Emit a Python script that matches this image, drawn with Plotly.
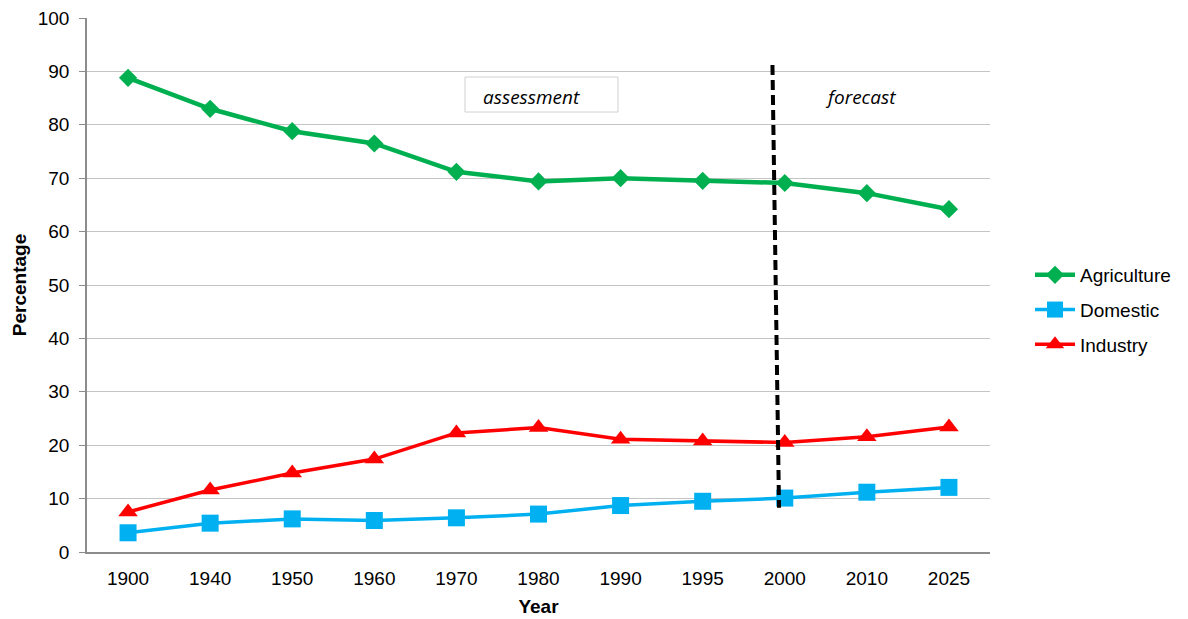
import plotly.graph_objects as go

years = ["1900", "1940", "1950", "1960", "1970", "1980", "1990", "1995", "2000", "2010", "2025"]
agriculture = [88.8, 83.0, 78.8, 76.5, 71.2, 69.4, 70.0, 69.5, 69.1, 67.2, 64.2]
domestic = [3.6, 5.4, 6.2, 5.9, 6.4, 7.1, 8.7, 9.5, 10.1, 11.2, 12.1]
industry = [7.5, 11.6, 14.8, 17.4, 22.3, 23.3, 21.1, 20.8, 20.5, 21.6, 23.4]

W, H = 1188, 619
ML, MR, MT, MB = 87, 198, 18, 67
PW, PH = W - ML - MR, H - MT - MB


def px(xp):
    return (xp - ML) / PW


def py(yp):
    return (H - MB - yp) / PH


FONT = "Arial, Liberation Sans, sans-serif"

fig = go.Figure()
fig.add_trace(go.Scatter(
    x=years, y=agriculture, name="Agriculture", mode="lines+markers", legendgroup="a",
    line=dict(color="#00B050", width=4.5),
    marker=dict(symbol="diamond", size=14, color="#00B050"),
))
fig.add_trace(go.Scatter(
    x=years, y=domestic, name="Domestic", mode="lines+markers", legendgroup="d",
    line=dict(color="#00B0F0", width=3.5),
    marker=dict(symbol="square", size=17, color="#00B0F0"),
))
fig.add_trace(go.Scatter(
    x=years, y=industry, name="Industry", mode="lines+markers", legendgroup="i",
    line=dict(color="#FF0000", width=3.5),
    marker=dict(symbol="triangle-up", size=17, color="#FF0000"),
))

# boundary between assessed and forecast periods
fig.add_shape(type="line", xref="x", yref="y", x0=7.85, y0=91.2, x1=7.93, y1=8.3,
              line=dict(color="black", width=4, dash="10px,5px"))

# label box for the assessment period
fig.add_shape(type="rect", xref="paper", yref="paper",
              x0=px(465), x1=px(618), y0=py(112), y1=py(77),
              line=dict(color="#D0D0D0", width=1), fillcolor="white", layer="below")
fig.add_annotation(xref="paper", yref="paper", x=px(531), y=py(97), text="<i>assessment</i>",
                   xanchor="center", yanchor="middle",
                   showarrow=False, font=dict(family="Open Sans", size=19, color="black"))
fig.add_annotation(xref="paper", yref="paper", x=px(860), y=py(97), text="<i>forecast</i>",
                   xanchor="center", yanchor="middle",
                   showarrow=False, font=dict(family="Open Sans", size=19, color="black"))

fig.update_layout(
    width=W, height=H,
    margin=dict(l=ML, r=MR, t=MT, b=MB, autoexpand=False),
    paper_bgcolor="white", plot_bgcolor="white",
    font=dict(family=FONT, size=19, color="black"),
    showlegend=True,
    legend=dict(x=px(1030), y=py(256), xanchor="left", yanchor="top",
                tracegroupgap=7, font=dict(family=FONT, size=19, color="black"),
                bgcolor="rgba(0,0,0,0)", itemwidth=40),
    xaxis=dict(
        type="category", range=[-0.5, 10.5], automargin=False,
        showgrid=False, showline=True, linecolor="#8C8C8C", linewidth=2,
        ticks="", ticklabelstandoff=8,
        title=dict(text="<b>Year</b>", font=dict(size=19), standoff=12),
    ),
    yaxis=dict(
        range=[0, 100], dtick=10, tick0=0, automargin=False,
        showgrid=True, gridcolor="#C4C4C4", gridwidth=1,
        showline=True, linecolor="#8C8C8C", linewidth=1.5,
        ticks="outside", ticklen=6, tickcolor="#8C8C8C", ticklabelstandoff=6,
        zeroline=False,
        title=dict(text="<b>Percentage</b>", font=dict(size=19), standoff=6),
    ),
)

fig.write_html("out.html")
